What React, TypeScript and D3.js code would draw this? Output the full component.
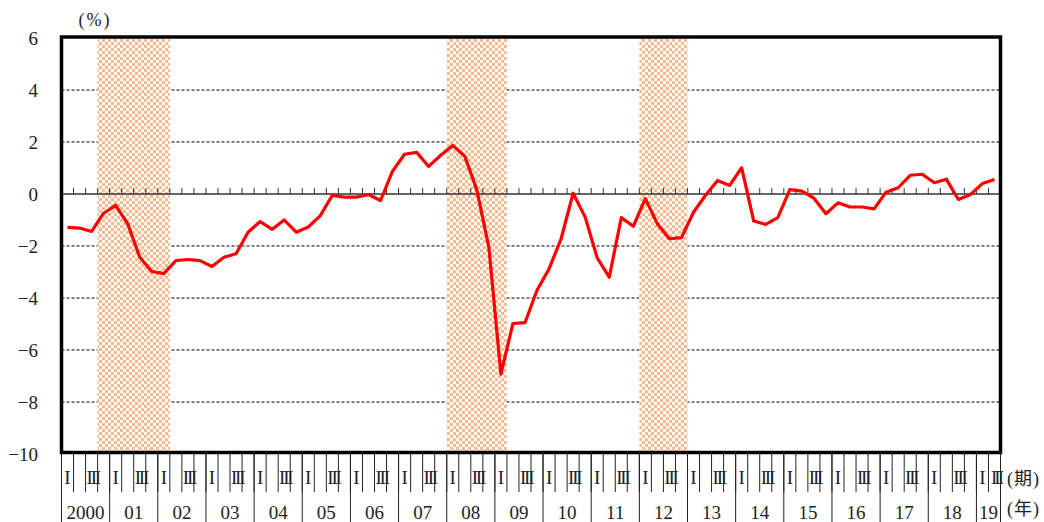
import React from "react";
import * as d3 from "d3";

const years = ["2000","01","02","03","04","05","06","07","08","09","10","11","12","13","14","15","16","17","18","19"];
const quartersPerYear = [4,4,4,4,4,4,4,4,4,4,4,4,4,4,4,4,4,4,4,2];
const quarterMarks = ["I", "", "III", ""];
const lastYearMarks = ["I", "III"];

// year-on-year change (%), quarterly, 2000 Q1 – 2019 Q2
const values = [
  -1.28, -1.31, -1.44, -0.74,
  -0.44, -1.15, -2.43, -2.98,
  -3.06, -2.56, -2.52, -2.56,
  -2.79, -2.43, -2.30, -1.47,
  -1.06, -1.36, -1.00, -1.47,
  -1.27, -0.83, -0.05, -0.12,
  -0.12, -0.02, -0.25, 0.88,
  1.53, 1.60, 1.06, 1.49,
  1.87, 1.45, 0.16, -2.05,
  -6.93, -4.98, -4.95, -3.70,
  -2.88, -1.72, 0.03, -0.89,
  -2.46, -3.20, -0.91, -1.24,
  -0.18, -1.15, -1.72, -1.68,
  -0.70, -0.05, 0.52, 0.33,
  1.01, -1.04, -1.17, -0.91,
  0.17, 0.11, -0.16, -0.76,
  -0.34, -0.50, -0.50, -0.57,
  0.07, 0.24, 0.72, 0.76,
  0.43, 0.57, -0.21, -0.02,
  0.40, 0.56,
];

// recession periods (first quarter, last quarter)
const recessionStarts = ["2000Q4", "2008Q1", "2012Q1"];
const recessionEnds = ["2002Q1", "2009Q1", "2012Q4"];

const yTicks = [6, 4, 2, 0, -2, -4, -6, -8, -10];

const serif = "\"Liberation Serif\", \"Times New Roman\", \"DejaVu Serif\", \"Noto Sans CJK JP\", serif";

export default function App() {
  const W = 1044, H = 522;
  const left = 61.5, right = 1000.5, top = 38, bottom = 454;

  const quarterIds: string[] = [];
  years.forEach((_, yi) => {
    for (let q = 0; q < quartersPerYear[yi]; q++) quarterIds.push(`${2000 + yi}Q${q + 1}`);
  });
  const n = quarterIds.length;

  const x = d3.scaleBand<string>().domain(quarterIds).range([left, right]).padding(0);
  const bw = x.bandwidth();
  const y = d3.scaleLinear().domain([-10, 6]).range([bottom, top]);

  const line = d3.line<number>()
    .x((_, i) => (x(quarterIds[i]) as number) + bw / 2)
    .y((d) => y(d));

  const frameTop = 37, frameBottom = 452.5;

  let acc = 0;
  const yearBlocks = years.map((label, yi) => {
    const start = acc;
    acc += quartersPerYear[yi];
    return { label, start, count: quartersPerYear[yi] };
  });

  const txt = { fontFamily: serif, fill: "#222" } as React.CSSProperties;

  return (
    <svg width={W} height={H} style={{ position: "absolute", left: 0, top: 0, background: "#fff" }}>
      <defs>
        <pattern id="chk" width={6} height={6} patternUnits="userSpaceOnUse">
          <rect width={6} height={6} fill="#f9bb8e" />
          <rect x={0} y={0} width={3} height={3} fill="#ffffff" />
          <rect x={3} y={3} width={3} height={3} fill="#ffffff" />
        </pattern>
      </defs>

      {yTicks.filter((t) => t !== 0 && t !== 6 && t !== -10).map((t) => (
        <line key={t} x1={left} x2={right} y1={y(t)} y2={y(t)} stroke="#000" strokeWidth={1} strokeDasharray="3,2" />
      ))}

      {recessionStarts.map((s, i) => {
        const x0 = x(s) as number;
        const x1 = (x(recessionEnds[i]) as number) + bw;
        return <rect key={s} x={x0} y={frameTop} width={x1 - x0} height={frameBottom - frameTop} fill="url(#chk)" />;
      })}

      <line x1={left} x2={right} y1={y(0)} y2={y(0)} stroke="#333" strokeWidth={1.3} />
      {d3.range(1, n).map((i) => {
        const xx = x(quarterIds[i]) as number;
        return <line key={i} x1={xx} x2={xx} y1={y(0)} y2={y(0) - 6} stroke="#333" strokeWidth={1} />;
      })}

      <path d={line(values) || ""} fill="none" stroke="#ff0000" strokeWidth={3.2} strokeLinejoin="round" />

      <rect x={left} y={frameTop} width={right - left} height={frameBottom - frameTop} fill="none" stroke="#000" strokeWidth={3.5} />

      {yTicks.map((t) => (
        <text key={t} x={38} y={y(t) + 7} textAnchor="end" fontSize={19} style={txt}>
          {t < 0 ? `\u2212${Math.abs(t)}` : `${t}`}
        </text>
      ))}
      <text x={95} y={26} textAnchor="middle" fontSize={18} style={{ ...txt, letterSpacing: "2px" }}>(%)</text>

      {d3.range(1, n).map((i) => {
        const xx = x(quarterIds[i]) as number;
        return <line key={`q${i}`} x1={xx} x2={xx} y1={frameBottom} y2={492} stroke="#222" strokeWidth={1} />;
      })}
      {yearBlocks.map((b) => {
        const xs = x(quarterIds[b.start]) as number;
        return <line key={`y${b.label}`} x1={xs} x2={xs} y1={frameBottom} y2={H} stroke="#222" strokeWidth={1} />;
      })}
      <line x1={right} x2={right} y1={frameBottom} y2={H} stroke="#222" strokeWidth={1} />

      {yearBlocks.map((b) => {
        const marks = b.count === 4 ? quarterMarks : lastYearMarks;
        return marks.map((m, qi) => {
          if (!m) return null;
          const cx = (x(quarterIds[b.start + qi]) as number) + bw / 2;
          const ls = m === "I" ? 0 : (b.count === 4 ? -2.2 : -3);
          return (
            <text key={`m${b.label}${qi}`} x={cx - ls / 2} y={484} textAnchor="middle" fontSize={19}
              style={{ ...txt, letterSpacing: `${ls}px` }}>
              {m}
            </text>
          );
        });
      })}

      {yearBlocks.map((b) => {
        const xs = x(quarterIds[b.start]) as number;
        const cx = xs + (b.count * bw) / 2;
        return (
          <text key={`t${b.label}`} x={cx} y={519} textAnchor="middle" fontSize={19} style={txt}>
            {b.label}
          </text>
        );
      })}

      <text x={1007} y={485} fontSize={18} style={{ ...txt, letterSpacing: "1px" }}>(期)</text>
      <text x={1007} y={515} fontSize={18} style={{ ...txt, letterSpacing: "1px" }}>(年)</text>
    </svg>
  );
}
